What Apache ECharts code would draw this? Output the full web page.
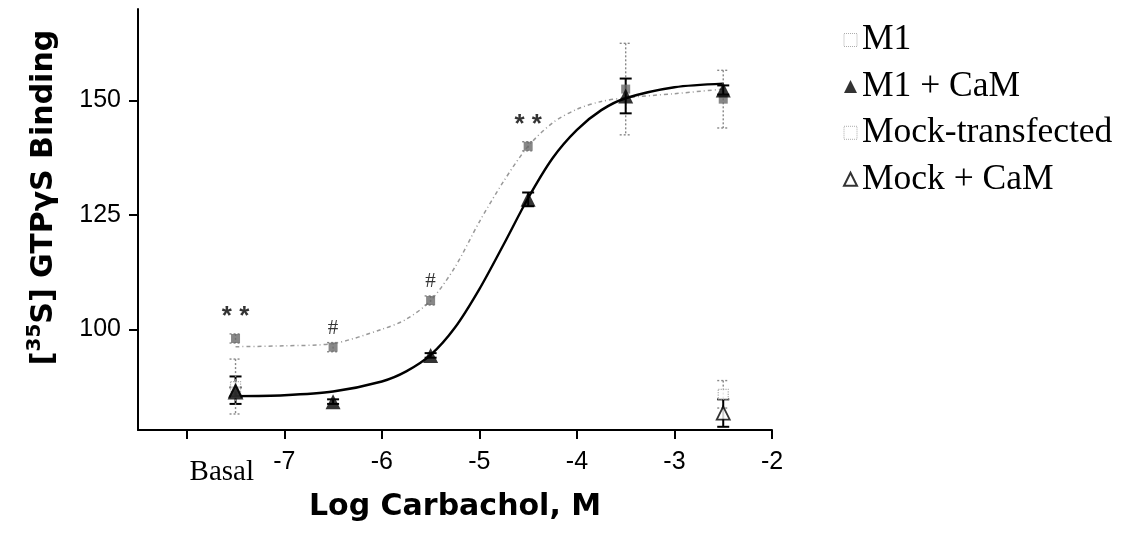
<!DOCTYPE html>
<html>
<head>
<meta charset="utf-8">
<script src="https://cdn.jsdelivr.net/npm/echarts@6/dist/echarts.min.js"></script>
<style>
html,body{margin:0;padding:0;background:#fff;}
#chart{width:1122px;height:533px;}
</style>
</head>
<body>
<div id="chart"></div>
<script>
// ---- data ----
const xTicks = [-8, -7, -6, -5, -4, -3, -2];
const yTicks = [100, 125, 150];
const basalLabel = 'Basal';
const xPoints = [-7.5, -6.5, -5.5, -4.5, -3.5, -2.5]; // basal plotted at -7.5
const m1 = [98.0, 96.1, 106.3, 140.0, 152.5, 150.3];
const m1Err = [1, 1, 1, 1, 10, 6.3];
const m1CaM = [86.7, 84.2, 94.3, 128.4, 151.0, 152.3];
const m1CaMErr = [3, 0.5, 0.5, 1.5, 3.8, 1];
const mockX = [-7.5, -2.5];
const mock = [87.5, 85.8];
const mockErr = [6, 3];
const mockCaM = [86.3, 81.7];
const mockCaMErr = [1, 3];
const annotations = ['**', '#', '#', '**', '', ''];
const curveX = [-7.5, -7, -6.5, -6, -5.75, -5.5, -5.25, -5, -4.75, -4.5, -4.25, -4, -3.75, -3.5, -3, -2.5];
const m1Curve = [96.2, 96.4, 96.9, 100.0, 102.2, 106.3, 113.6, 123.5, 132.4, 140.0, 145.1, 148.1, 149.8, 150.6, 151.5, 152.5];
const m1CaMCurve = [85.4, 85.6, 86.4, 88.6, 90.8, 94.4, 100.4, 108.8, 118.6, 128.7, 137.4, 143.6, 147.9, 150.5, 152.9, 153.7];
const names = ['M1', 'M1 + CaM', 'Mock-transfected', 'Mock + CaM'];

const zip = (xs, ys) => xs.map((x, i) => [x, ys[i]]);
const zipE = (xs, ys, es) => xs.map((x, i) => [x, ys[i], es[i]]);

function errBar(color, dash, width) {
  return function (params, api) {
    const x = api.value(0), y = api.value(1), e = api.value(2);
    const t = api.coord([x, y + e]);
    const b = api.coord([x, y - e]);
    const hw = 6;
    const st = { stroke: color, lineWidth: width, lineDash: dash };
    return {
      type: 'group',
      children: [
        { type: 'line', shape: { x1: t[0], y1: t[1], x2: b[0], y2: b[1] }, style: st },
        { type: 'line', shape: { x1: t[0] - hw, y1: t[1], x2: t[0] + hw, y2: t[1] }, style: st },
        { type: 'line', shape: { x1: b[0] - hw, y1: b[1], x2: b[0] + hw, y2: b[1] }, style: st }
      ]
    };
  };
}

const chart = echarts.init(document.getElementById('chart'), null, { renderer: 'canvas' });
const sans = 'Liberation Sans, Arial, sans-serif';
const bold = 'DejaVu Sans, Liberation Sans, sans-serif';
const serif = 'Liberation Serif, Times New Roman, serif';

chart.setOption({
  animation: false,
  backgroundColor: '#fff',
  grid: { left: 138, right: 350, top: 9, bottom: 103, containLabel: false },
  legend: {
    orient: 'vertical',
    left: 838,
    top: 17,
    itemGap: 10.4,
    itemWidth: 13,
    itemHeight: 13,
    textStyle: { fontFamily: serif, fontSize: 35.5, color: '#000', lineHeight: 34 },
    data: [
      { name: names[0], icon: 'rect', itemStyle: { color: '#fff', borderColor: '#999', borderWidth: 1, borderType: 'dotted' } },
      { name: names[1], icon: 'triangle' },
      { name: names[2], icon: 'rect', itemStyle: { color: '#fff', borderColor: '#999', borderWidth: 1, borderType: 'dotted' } },
      { name: names[3], icon: 'triangle' }
    ]
  },
  xAxis: {
    type: 'value',
    min: -8.5,
    max: -2,
    name: 'Log Carbachol, M',
    nameLocation: 'middle',
    nameGap: 53,
    nameTextStyle: { fontFamily: bold, fontWeight: 'bold', fontSize: 30, color: '#000' },
    axisLine: { onZero: false, lineStyle: { color: '#000', width: 2 } },
    axisTick: { show: true, length: 9, lineStyle: { color: '#000', width: 2 }, customValues: xTicks },
    axisLabel: {
      customValues: xTicks,
      margin: 20,
      color: '#000',
      fontFamily: sans,
      fontSize: 25,
      formatter: v => (v === xTicks[0] ? '{b|' + basalLabel + '}' : String(v)),
      rich: { b: { fontFamily: serif, fontSize: 29, color: '#000', padding: [8, 0, 0, 70] } }
    },
    splitLine: { show: false }
  },
  yAxis: {
    type: 'value',
    min: 78,
    max: 170,
    name: '{t|[}{sup|35}{t|S] GTPγS Binding}',
    nameLocation: 'middle',
    nameRotate: 90,
    nameGap: 75,
    nameTextStyle: {
      padding: [0, 0, 0, 44],
      rich: {
        sup: { fontFamily: bold, fontWeight: 'bold', fontSize: 20, color: '#000', verticalAlign: 'top' },
        t: { fontFamily: bold, fontWeight: 'bold', fontSize: 30, color: '#000', lineHeight: 38 }
      }
    },
    axisLine: { show: true, lineStyle: { color: '#000', width: 2 } },
    axisTick: { show: true, length: 9, lineStyle: { color: '#000', width: 2 }, customValues: yTicks },
    axisLabel: { customValues: yTicks, margin: 17, color: '#000', fontFamily: sans, fontSize: 25 },
    splitLine: { show: false }
  },
  series: [
    {
      name: 'M1 fit', type: 'line', data: zip(curveX, m1Curve), smooth: 0.3, symbol: 'none',
      lineStyle: { color: '#999', width: 1.5, type: [4, 3, 1, 3] }, z: 2, silent: true
    },
    {
      name: 'M1 + CaM fit', type: 'line', data: zip(curveX, m1CaMCurve), smooth: 0.3, symbol: 'none',
      lineStyle: { color: '#000', width: 2.4 }, z: 2, silent: true
    },
    { name: 'M1 err', type: 'custom', renderItem: errBar('#888', [2, 2], 1.4), data: zipE(xPoints, m1, m1Err), encode: { x: 0, y: 1 }, z: 3 },
    { name: 'M1 + CaM err', type: 'custom', renderItem: errBar('#000', null, 2), data: zipE(xPoints, m1CaM, m1CaMErr), encode: { x: 0, y: 1 }, z: 3 },
    { name: 'Mock err', type: 'custom', renderItem: errBar('#888', [2, 2], 1.4), data: zipE(mockX, mock, mockErr), encode: { x: 0, y: 1 }, z: 3 },
    { name: 'Mock + CaM err', type: 'custom', renderItem: errBar('#000', null, 2), data: zipE(mockX, mockCaM, mockCaMErr), encode: { x: 0, y: 1 }, z: 3 },
    {
      name: names[2], type: 'scatter', data: zip(mockX, mock), symbol: 'rect', symbolSize: 10,
      itemStyle: { color: '#fff', borderColor: '#999', borderWidth: 1.2, borderType: 'dotted' }, z: 4
    },
    {
      name: names[3], type: 'scatter', data: zip(mockX, mockCaM), symbol: 'triangle', symbolSize: 13,
      itemStyle: { color: '#fff', borderColor: '#000', borderWidth: 1.8 }, z: 5
    },
    {
      name: names[0], type: 'scatter', data: zip(xPoints, m1), symbol: 'rect', symbolSize: 9,
      itemStyle: { color: '#6a6a6a' }, z: 6,
      label: {
        show: true, position: 'top', distance: 4, color: '#000',
        formatter: p => {
          const a = annotations[p.dataIndex];
          if (!a) return '';
          return a === '#' ? '{h|#}' : '{s|' + a.split('').join(' ') + '}';
        },
        rich: {
          s: { fontFamily: sans, fontWeight: 'bold', fontSize: 26, color: '#000', padding: [0, 0, 0, 0] },
          h: { fontFamily: serif, fontSize: 21, color: '#000' }
        }
      }
    },
    {
      name: names[1], type: 'scatter', data: zip(xPoints, m1CaM), symbol: 'triangle', symbolSize: 15,
      itemStyle: { color: '#000' }, z: 7
    }
  ]
});
</script>
</body>
</html>
